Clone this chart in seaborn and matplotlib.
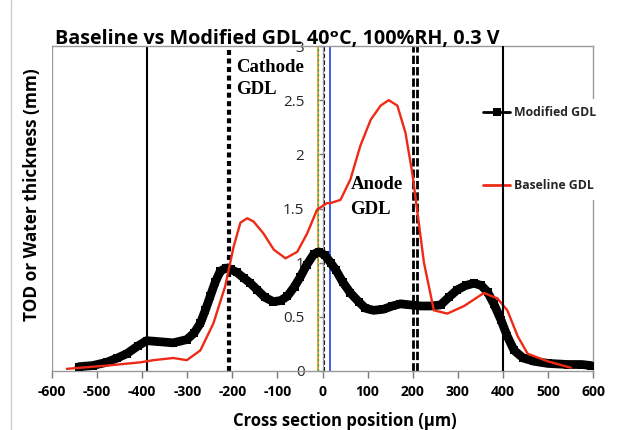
import numpy as np
import pandas as pd
import matplotlib
matplotlib.use("Agg")
import matplotlib.pyplot as plt
from matplotlib.lines import Line2D
import seaborn as sns

# ---------------- data ----------------
mod_x = [-540, -510, -479, -455, -434, -410, -390, -360, -331, -301, -285, -271,
         -260, -249, -238, -227, -215, -204, -190, -175, -160, -145, -128, -109,
         -93, -78, -62, -49, -35, -19, -8, 5, 18, 30, 45, 62, 80, 95, 113, 135,
         155, 173, 195, 218, 240, 262, 280, 299, 318, 336, 352, 366, 380, 396,
         410, 425, 445, 469, 500, 544, 575, 596]
mod_y = [0.04, 0.05, 0.08, 0.12, 0.16, 0.23, 0.28, 0.27, 0.26, 0.29, 0.35, 0.44,
         0.56, 0.69, 0.82, 0.92, 0.95, 0.94, 0.91, 0.86, 0.81, 0.75, 0.68, 0.64,
         0.65, 0.69, 0.78, 0.87, 0.98, 1.08, 1.10, 1.07, 1.00, 0.93, 0.82, 0.72,
         0.64, 0.58, 0.56, 0.57, 0.60, 0.62, 0.61, 0.60, 0.60, 0.61, 0.68, 0.75,
         0.79, 0.81, 0.79, 0.73, 0.62, 0.47, 0.32, 0.19, 0.12, 0.09, 0.07, 0.06,
         0.06, 0.05]

base_x = [-567, -478, -404, -375, -331, -301, -271, -242, -216, -197, -182, -167,
          -153, -131, -108, -82, -56, -34, -12, 10, 18, 40, 62, 84, 107, 129, 147,
          166, 184, 199, 207, 225, 247, 277, 314, 358, 388, 410, 433, 455, 499, 551]
base_y = [0.02, 0.05, 0.08, 0.10, 0.12, 0.10, 0.19, 0.44, 0.78, 1.15, 1.37, 1.41,
          1.38, 1.27, 1.12, 1.04, 1.10, 1.27, 1.49, 1.55, 1.55, 1.58, 1.77, 2.08,
          2.32, 2.45, 2.50, 2.45, 2.20, 1.83, 1.58, 1.00, 0.56, 0.53, 0.60, 0.72,
          0.67, 0.56, 0.32, 0.16, 0.09, 0.03]

x_ticks = [-600, -500, -400, -300, -200, -100, 0, 100, 200, 300, 400, 500, 600]
y_ticks = [0, 0.5, 1, 1.5, 2, 2.5, 3]
y_tick_labels = ["0", "0.5", "1", "1.5", "2", "2.5", "3"]

series_names = ["Modified GDL", "Baseline GDL"]
title = "Baseline vs Modified GDL 40\u1d52C, 100%RH, 0.3 V"
x_label = "Cross section position (\u03bcm)"
y_label = "TOD or Water thickness (mm)"

# ---------------- style ----------------
sns.set_theme(style="white")
SANS = ["Open Sans", "DejaVu Sans"]
plt.rcParams["font.family"] = SANS
plt.rcParams["axes.unicode_minus"] = False

W, H = 628, 430
fig = plt.figure(figsize=(W / 100, H / 100), dpi=100)
L, R, T, B = 52, 593, 46, 371
ax = fig.add_axes([L / W, 1 - B / H, (R - L) / W, (B - T) / H])

df_mod = pd.DataFrame({"x": mod_x, "y": mod_y})
df_base = pd.DataFrame({"x": base_x, "y": base_y})

red = "#EE2A17"
sns.lineplot(data=df_base, x="x", y="y", ax=ax, color=red, lw=1.7, sort=False,
             zorder=4)
sns.lineplot(data=df_mod, x="x", y="y", ax=ax, color="black", lw=6.3, sort=False,
             marker="s", markersize=6.0, markeredgewidth=0, zorder=3,
             solid_joinstyle="round")

# vertical reference lines
ax.axvline(-390, color="black", lw=1.5, zorder=2)
ax.axvline(400, color="black", lw=1.5, zorder=7)
ax.axvline(-208, color="black", lw=3.0, dashes=(1.2, 0.85), zorder=2)
ax.axvline(200, color="black", lw=2.0, dashes=(3.0, 1.1), zorder=2)
ax.axvline(210, color="black", lw=2.0, dashes=(3.0, 1.1), zorder=2)
ax.axvline(-11, color="#F0A020", lw=1.4, zorder=2)
ax.axvline(-11, color="#30A060", lw=0.9, dashes=(2, 2), zorder=2)
ax.axvline(3, color="black", lw=0.8, dashes=(4, 2), zorder=2)
ax.axvline(16, color="#3050E0", lw=1.3, zorder=2)
ax.axvline(-600, color="#9a9a9a", lw=1.0, zorder=2)

ax.set_xlim(-600, 600)
ax.set_ylim(0, 3)
ax.set_xticks(x_ticks)
ax.set_xticklabels([str(v) for v in x_ticks])
ax.set_yticks(y_ticks)
ax.set_yticklabels(y_tick_labels)
for lab in ax.get_xticklabels() + ax.get_yticklabels():
    lab.set_fontweight("bold")
    lab.set_fontsize(10)
    lab.set_color("black")

ax.spines["left"].set_position(("data", 0))
for s in ["left", "bottom", "top", "right"]:
    ax.spines[s].set_color("#9a9a9a")
    ax.spines[s].set_linewidth(1.0)
ax.tick_params(axis="x", direction="out", length=5, width=1, color="#7a7a7a",
               pad=5, bottom=True)
ax.tick_params(axis="y", direction="out", length=3, width=1, color="#7a7a7a",
               pad=10, left=True)
ax.set_xlabel("")
ax.set_ylabel("")
ax.grid(False)

# annotations
serif = dict(family="Liberation Serif", fontweight="bold", fontsize=13.5,
             color="black", va="center", ha="left")
ax.text(-192, 2.80, "Cathode", **serif)
ax.text(-192, 2.60, "GDL", **serif)
ax.text(62, 1.72, "Anode", **serif)
ax.text(62, 1.49, "GDL", **serif)

# legend
handles = [
    Line2D([], [], color="black", lw=2, marker="s", markersize=5.5,
           markeredgewidth=0),
    Line2D([], [], color=red, lw=2),
]
leg = ax.legend(handles, series_names, loc="upper left",
                bbox_to_anchor=((470 - L) / (R - L), (B - 93) / (B - T)),
                frameon=True, facecolor="white", edgecolor="none",
                framealpha=1, fancybox=False, handlelength=2.2,
                handletextpad=0.3, labelspacing=4.9, borderpad=0.6,
                prop=dict(family="Open Sans", weight="bold", size=8.8))
leg.set_zorder(6)

# titles / labels
fig.text(55 / W, 1 - 44 / H, title, ha="left", va="baseline",
         fontsize=14.2, fontweight="bold", color="black", family=SANS)
fig.text(32 / W, 1 - 195 / H, y_label, ha="center", va="center",
         rotation=90, fontsize=12.4, fontweight="bold", color="black",
         family=SANS)
fig.text(345 / W, 1 - 421 / H, x_label, ha="center", va="center",
         fontsize=12, fontweight="bold", color="black", family=SANS)

# chart-area border at left
fig.add_artist(Line2D([11 / W, 11 / W], [0, 1], transform=fig.transFigure,
                      color="#cfcfcf", lw=1))

fig.savefig("out.png", dpi=100)
